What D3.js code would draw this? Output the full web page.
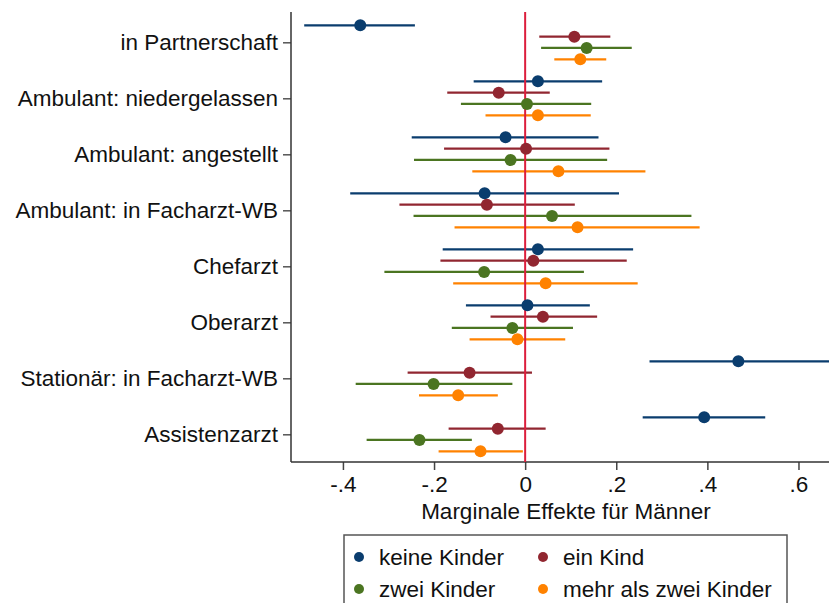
<!DOCTYPE html>
<html>
<head>
<meta charset="utf-8">
<script src="https://cdn.jsdelivr.net/npm/d3@7"></script>
<style>
  body { margin: 0; background: #fff; }
  svg { font-family: "Liberation Sans", Arial, sans-serif; }
</style>
</head>
<body>
<div id="chart"></div>
<script>
// categories, top to bottom
var categories = ["in Partnerschaft", "Ambulant: niedergelassen", "Ambulant: angestellt",
                  "Ambulant: in Facharzt-WB", "Chefarzt", "Oberarzt",
                  "Stationär: in Facharzt-WB", "Assistenzarzt"];
var seriesNames = ["keine Kinder", "ein Kind", "zwei Kinder", "mehr als zwei Kinder"];
var seriesColors = ["#0a3d6e", "#912630", "#4b7521", "#ff8200"];

// point estimates + 95% CI per series (same order as categories)
var keineEst = [-0.362, 0.028, -0.043, -0.089, 0.028, 0.005, 0.468, 0.393];
var keineLo  = [-0.485, -0.113, -0.249, -0.384, -0.181, -0.130, 0.273, 0.258];
var keineHi  = [-0.242, 0.169, 0.161, 0.206, 0.237, 0.142, 0.667, 0.527];

var einEst = [0.108, -0.058, 0.002, -0.084, 0.018, 0.039, -0.122, -0.060];
var einLo  = [0.031, -0.171, -0.178, -0.276, -0.186, -0.076, -0.258, -0.168];
var einHi  = [0.187, 0.054, 0.185, 0.109, 0.223, 0.158, 0.015, 0.045];

var zweiEst = [0.135, 0.004, -0.032, 0.059, -0.090, -0.028, -0.201, -0.232];
var zweiLo  = [0.035, -0.141, -0.244, -0.245, -0.309, -0.161, -0.372, -0.348];
var zweiHi  = [0.234, 0.145, 0.180, 0.365, 0.129, 0.105, -0.028, -0.117];

var mehrEst = [0.121, 0.028, 0.073, 0.115, 0.045, -0.017, -0.147, -0.098];
var mehrLo  = [0.064, -0.087, -0.116, -0.155, -0.158, -0.122, -0.233, -0.190];
var mehrHi  = [0.178, 0.144, 0.264, 0.383, 0.247, 0.088, -0.060, -0.005];

var xTicks = [-0.4, -0.2, 0, 0.2, 0.4, 0.6];

var width = 830, height = 603;
var fontSize = 22.5;
var plot = {left: 291, right: 829, top: 12, bottom: 462};

var series = [
  {name: seriesNames[0], est: keineEst, lo: keineLo, hi: keineHi},
  {name: seriesNames[1], est: einEst, lo: einLo, hi: einHi},
  {name: seriesNames[2], est: zweiEst, lo: zweiLo, hi: zweiHi},
  {name: seriesNames[3], est: mehrEst, lo: mehrLo, hi: mehrHi}
];

// flatten into one row per mark
var rows = [];
series.forEach(function(s, si){
  categories.forEach(function(c, ci){
    rows.push({cat: c, series: s.name, si: si, est: s.est[ci], lo: s.lo[ci], hi: s.hi[ci]});
  });
});

var x = d3.scaleLinear().domain([-0.514, 0.667]).range([plot.left, plot.right]);
var y = d3.scalePoint().domain(categories).range([42.3, 434.3]);
var offset = d3.scalePoint().domain(seriesNames).range([-17, 17]);
var color = d3.scaleOrdinal().domain(seriesNames).range(seriesColors);

var svg = d3.select("#chart").append("svg")
  .attr("width", width)
  .attr("height", height);

// axes
var yAxis = svg.append("g")
  .attr("transform", "translate(" + plot.left + ",0)")
  .call(d3.axisLeft(y).tickSize(8).tickPadding(5).tickSizeOuter(0));
yAxis.select(".domain").remove();
yAxis.selectAll(".tick line").attr("stroke", "#555").attr("stroke-width", 1.5);
yAxis.selectAll(".tick text")
  .attr("font-size", fontSize)
  .attr("font-family", "Liberation Sans, Arial, sans-serif")
  .attr("fill", "#111");

// stata style: "-.4", "0", ".2"
function fmt(d){
  if (d === 0) return "0";
  return d.toFixed(1).replace("0.", ".");
}

var xAxis = svg.append("g")
  .attr("transform", "translate(0," + plot.bottom + ")")
  .call(d3.axisBottom(x).tickValues(xTicks).tickFormat(fmt).tickSize(8).tickPadding(6).tickSizeOuter(0));
xAxis.select(".domain").remove();
xAxis.selectAll(".tick line").attr("stroke", "#444").attr("stroke-width", 1.5);
xAxis.selectAll(".tick text")
  .attr("font-size", fontSize)
  .attr("font-family", "Liberation Sans, Arial, sans-serif")
  .attr("fill", "#111");

// axis lines
svg.append("line")
  .attr("x1", plot.left).attr("x2", plot.left)
  .attr("y1", plot.top).attr("y2", plot.bottom)
  .attr("stroke", "#333").attr("stroke-width", 1.5);
svg.append("line")
  .attr("x1", plot.left).attr("x2", plot.right)
  .attr("y1", plot.bottom).attr("y2", plot.bottom)
  .attr("stroke", "#333").attr("stroke-width", 1.5);

svg.append("text")
  .attr("x", (plot.left + plot.right) / 2 + 6)
  .attr("y", 519)
  .attr("text-anchor", "middle")
  .attr("font-size", fontSize)
  .attr("fill", "#111")
  .text("Marginale Effekte für Männer");

// confidence intervals
svg.append("g")
  .selectAll("line")
  .data(rows)
  .enter().append("line")
  .attr("x1", function(d){ return x(d.lo); })
  .attr("x2", function(d){ return x(d.hi); })
  .attr("y1", function(d){ return y(d.cat) + offset(d.series); })
  .attr("y2", function(d){ return y(d.cat) + offset(d.series); })
  .attr("stroke", function(d){ return color(d.series); })
  .attr("stroke-width", 2.2);

// zero line
svg.append("line")
  .attr("x1", x(0)).attr("x2", x(0))
  .attr("y1", plot.top).attr("y2", plot.bottom)
  .attr("stroke", "#dc1e3c")
  .attr("stroke-width", 2);

// point estimates
svg.append("g")
  .selectAll("circle")
  .data(rows)
  .enter().append("circle")
  .attr("cx", function(d){ return x(d.est); })
  .attr("cy", function(d){ return y(d.cat) + offset(d.series); })
  .attr("r", 6)
  .attr("fill", function(d){ return color(d.series); });

// legend
var legend = svg.append("g");
legend.append("rect")
  .attr("x", 344).attr("y", 535)
  .attr("width", 443).attr("height", 70)
  .attr("fill", "#fff")
  .attr("stroke", "#555")
  .attr("stroke-width", 1.5);

var legPos = [[359, 557], [543, 557], [359, 589], [543, 589]];
var item = legend.selectAll("g.item")
  .data(seriesNames)
  .enter().append("g")
  .attr("class", "item")
  .attr("transform", function(d, i){ return "translate(" + legPos[i][0] + "," + legPos[i][1] + ")"; });
item.append("circle")
  .attr("r", 5)
  .attr("fill", function(d){ return color(d); });
item.append("text")
  .attr("x", 20)
  .attr("dy", "0.36em")
  .attr("font-size", fontSize)
  .attr("fill", "#111")
  .text(function(d){ return d; });
</script>
</body>
</html>
